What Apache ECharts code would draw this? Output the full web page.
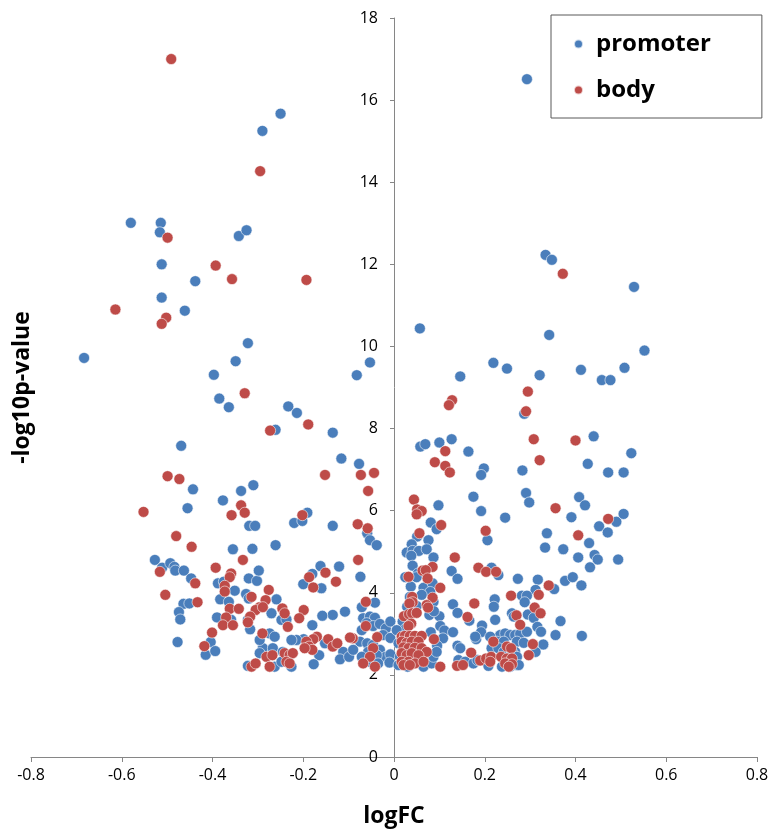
<!DOCTYPE html>
<html>
<head>
<meta charset="utf-8">
<script src="https://cdn.jsdelivr.net/npm/echarts@6/dist/echarts.min.js"></script>
<style>
  html, body { margin: 0; padding: 0; background: #fff; }
  #chart { width: 771px; height: 830px; }
</style>
</head>
<body>
<div id="chart"></div>
<script>
// [logFC, -log10 p-value]
var promoter = [
  [-0.25,15.67],[-0.29,15.25],[-0.58,13.01],[-0.514,13.01],[-0.516,12.78],[-0.342,12.69],[-0.325,12.83],[-0.512,12.0],[-0.438,11.59],[-0.512,11.19],
  [-0.683,9.72],[-0.461,10.87],[-0.322,10.08],[-0.349,9.64],[-0.397,9.31],[-0.082,9.30],[-0.053,9.61],[-0.385,8.73],[-0.364,8.52],[-0.233,8.54],
  [-0.214,8.38],[-0.261,7.97],[-0.135,7.90],[-0.469,7.58],[-0.116,7.27],[-0.077,7.14],[-0.443,6.52],[-0.377,6.25],[-0.337,6.48],[-0.310,6.62],
  [-0.455,6.06],[-0.191,5.95],[-0.220,5.70],[-0.202,5.75],[-0.319,5.63],[-0.306,5.63],[-0.135,5.63],[-0.059,5.45],[-0.053,5.28],[-0.038,5.16],
  [-0.355,5.06],[-0.312,5.07],[-0.527,4.80],[-0.511,4.61],[-0.493,4.72],[-0.484,4.63],[-0.482,4.54],[-0.463,4.54],[-0.447,4.35],[-0.464,3.73],
  [-0.451,3.74],[-0.474,3.53],[-0.471,3.35],[-0.477,2.80],[-0.404,2.80],[-0.415,2.49],[-0.394,2.58],[-0.388,4.23],[-0.375,4.27],[-0.351,4.05],
  [-0.383,3.84],[-0.364,3.78],[-0.390,3.40],[-0.359,3.34],[-0.320,4.35],[-0.302,4.29],[-0.298,4.54],[-0.326,3.97],[-0.320,3.86],[-0.322,3.34],
  [-0.317,3.11],[-0.322,2.22],[-0.289,2.65],
  [-0.261,5.16],[-0.121,4.64],[-0.162,4.65],[-0.180,4.46],[-0.200,4.21],[-0.160,4.11],[-0.074,4.39],[-0.071,3.65],[-0.042,3.76],[-0.068,3.38],
  [-0.053,3.42],[-0.042,3.39],[-0.060,3.26],[-0.071,3.09],[-0.046,3.19],[-0.031,3.24],[-0.018,3.13],[-0.024,2.97],[-0.075,2.81],[-0.059,2.77],
  [-0.046,2.73],[-0.031,2.61],[-0.018,2.44],[-0.057,2.56],[-0.038,2.48],[-0.071,2.44],[-0.053,2.32],[-0.035,2.28],[-0.108,3.54],[-0.135,3.46],
  [-0.158,3.44],[-0.180,3.21],[-0.199,2.87],[-0.165,2.48],[-0.177,2.26],[-0.215,2.85],[-0.152,2.77],[-0.112,2.56],[-0.119,2.38],[-0.099,2.44],
  [-0.090,2.61],[-0.259,3.84],[-0.270,3.50],[-0.248,3.34],[-0.237,3.35],[-0.226,2.85],[-0.274,3.01],[-0.263,2.93],[-0.289,2.65],[-0.267,2.65],
  [-0.263,2.20],[-0.245,2.56],[-0.248,2.32],[-0.226,2.20],[-0.296,2.85],[-0.296,2.53],
  [-0.008,3.3],[-0.008,2.9],[-0.008,2.5],[-0.01,2.3],
  [0.293,16.51],[0.334,12.23],[0.348,12.11],[0.529,11.45],[0.342,10.28],[0.552,9.90],[0.321,9.30],[0.412,9.43],[0.508,9.48],[0.458,9.18],
  [0.477,9.18],[0.287,8.36],[0.440,7.81],[0.523,7.40],[0.427,7.14],[0.283,6.98],[0.472,6.93],[0.506,6.93],[0.291,6.43],[0.298,6.20],
  [0.408,6.33],[0.421,6.13],[0.391,5.84],[0.490,5.73],[0.506,5.92],[0.452,5.62],
  [0.057,10.44],[0.219,9.60],[0.249,9.46],[0.146,9.27],[0.058,7.56],[0.069,7.62],[0.100,7.66],[0.127,7.74],[0.164,7.44],[0.198,7.03],
  [0.192,6.87],[0.098,6.13],[0.175,6.34],[0.192,5.99],[0.245,5.83],[0.081,5.71],
  [0.094,5.55],[0.206,5.28],[0.051,5.37],[0.076,5.28],[0.039,5.18],[0.028,4.98],[0.041,5.02],[0.055,5.02],[0.072,5.06],[0.038,4.90],
  [0.087,4.86],[0.041,4.66],[0.053,4.47],[0.025,4.38],[0.050,4.38],[0.127,4.53],[0.140,4.34],[0.215,4.61],[0.077,4.23],[0.037,4.15],
  [0.065,4.12],[0.085,4.23],[0.035,3.90],[0.080,4.02],[0.061,3.95],[0.087,3.78],[0.130,3.72],[0.222,3.84],[0.220,3.66],[0.029,3.66],
  [0.050,3.68],[0.078,3.46],[0.100,3.43],[0.088,3.55],[0.140,3.51],[0.166,3.32],[0.019,3.30],[0.026,3.13],[0.102,3.19],[0.111,3.08],
  [0.130,3.04],[0.081,3.04],[0.194,3.20],[0.192,3.04],[0.181,2.87],[0.215,2.65],[0.108,2.89],[0.095,2.71],[0.140,2.71],[0.146,2.65],
  [0.013,2.44],[0.010,2.24],[0.065,2.20],[0.083,2.28],[0.087,2.44],[0.094,2.56],[0.142,2.36],[0.157,2.32],[0.175,2.28],[0.184,2.36],
  [0.208,2.22],[0.006,3.09],[0.010,2.77],[0.03,2.2],[0.05,2.36],[0.02,2.6],
  [0.471,5.47],[0.337,5.45],[0.333,5.10],[0.373,5.06],[0.430,5.21],[0.406,4.86],[0.442,4.92],[0.449,4.81],[0.494,4.81],[0.432,4.62],
  [0.273,4.34],[0.317,4.32],[0.377,4.29],[0.394,4.38],[0.413,4.18],[0.353,4.09],[0.312,4.07],[0.282,3.93],[0.293,3.93],[0.288,3.77],
  [0.260,3.50],[0.264,3.42],[0.295,3.47],[0.308,3.39],[0.223,3.34],[0.316,3.17],[0.324,3.05],[0.367,3.31],[0.356,2.97],[0.414,2.95],
  [0.329,2.74],[0.312,2.56],[0.234,2.97],[0.245,3.01],[0.256,2.97],[0.267,2.97],[0.278,3.00],[0.293,3.05],[0.227,2.81],[0.242,2.81],
  [0.271,2.81],[0.286,2.78],[0.267,2.56],[0.271,2.24],[0.238,2.20],[0.256,2.20],
  [0.230,4.43],[0.179,2.93],[0.212,2.93],[0.230,2.65],[0.242,2.56],[0.260,2.56],[0.271,2.44],[0.275,2.24]
];

var body = [
  [-0.491,17.0],[-0.295,14.27],[-0.499,12.65],[-0.393,11.97],[-0.357,11.64],[-0.193,11.62],[-0.614,10.90],[-0.502,10.70],[-0.512,10.55],[-0.329,8.86],
  [-0.189,8.10],[-0.273,7.95],[-0.499,6.84],[-0.473,6.77],[-0.152,6.87],[-0.073,6.87],[-0.044,6.92],[-0.057,6.48],[-0.337,6.13],[-0.358,5.89],
  [-0.329,5.95],[-0.552,5.97],[-0.202,5.89],[-0.080,5.67],[-0.058,5.57],
  [-0.480,5.38],[-0.446,5.12],[-0.333,4.80],[-0.516,4.51],[-0.438,4.23],[-0.393,4.61],[-0.504,3.95],[-0.433,3.77],[-0.401,3.03],[-0.418,2.70],
  [-0.359,4.47],[-0.362,4.38],[-0.373,4.17],[-0.373,4.03],[-0.362,3.61],[-0.342,3.61],[-0.370,3.40],[-0.377,3.21],[-0.355,3.21],[-0.314,3.90],
  [-0.296,3.65],[-0.305,3.58],[-0.317,3.42],[-0.322,3.28],[-0.290,3.01],[-0.314,2.20],[-0.305,2.28],
  [-0.079,4.80],[-0.151,4.49],[-0.187,4.38],[-0.178,4.13],[-0.128,4.27],[-0.062,3.78],[-0.062,3.19],[-0.037,2.92],[-0.091,2.89],[-0.046,2.65],
  [-0.053,2.44],[-0.042,2.20],[-0.068,2.28],[-0.199,3.58],[-0.209,3.38],[-0.170,2.93],[-0.178,2.87],[-0.193,2.81],[-0.187,2.69],[-0.180,2.61],
  [-0.197,2.65],[-0.145,2.87],[-0.135,2.69],[-0.125,2.77],[-0.097,2.91],[-0.276,4.07],[-0.283,3.82],[-0.289,3.65],[-0.246,3.62],[-0.241,3.50],
  [-0.234,3.17],[-0.281,2.44],[-0.268,2.48],[-0.274,2.20],[-0.241,2.53],[-0.230,2.48],[-0.223,2.53],[-0.237,2.32],[-0.230,2.28],
  [0.372,11.77],[0.295,8.90],[0.291,8.42],[0.308,7.74],[0.400,7.71],[0.321,7.23],[0.356,6.06],[0.472,5.80],
  [0.128,8.69],[0.121,8.57],[0.113,7.45],[0.090,7.18],[0.113,7.09],[0.123,6.93],[0.044,6.27],[0.051,6.03],[0.061,5.99],[0.050,5.91],[0.104,5.65],
  [0.202,5.51],[0.056,5.45],[0.134,4.86],[0.085,4.63],[0.063,4.54],[0.070,4.55],[0.032,4.39],[0.186,4.61],[0.203,4.51],[0.225,4.51],
  [0.074,4.35],[0.102,4.12],[0.040,3.90],[0.041,3.77],[0.034,3.74],[0.085,3.88],[0.072,3.70],[0.075,3.64],[0.177,3.74],[0.022,3.43],
  [0.033,3.48],[0.040,3.50],[0.050,3.51],[0.162,3.41],[0.038,3.25],[0.032,3.19],[0.219,2.81],[0.088,2.87],
  [0.017,2.93],[0.024,2.95],[0.035,2.95],[0.046,2.95],[0.061,2.95],[0.017,2.81],[0.028,2.78],[0.039,2.81],[0.054,2.81],[0.021,2.67],
  [0.032,2.65],[0.046,2.66],[0.061,2.65],[0.072,2.56],[0.017,2.53],[0.028,2.48],[0.039,2.53],[0.054,2.48],[0.017,2.32],[0.032,2.32],
  [0.046,2.28],[0.065,2.32],[0.021,2.24],[0.035,2.24],[0.102,2.20],[0.139,2.22],[0.152,2.24],[0.170,2.54],[0.190,2.35],[0.203,2.40],
  [0.214,2.44],[0.212,2.32],
  [0.406,5.40],[0.341,4.18],[0.258,3.93],[0.319,3.95],[0.310,3.64],[0.323,3.50],[0.270,3.45],[0.278,3.22],[0.306,2.75],[0.297,2.48],
  [0.249,2.69],[0.258,2.65],[0.236,2.44],[0.249,2.40],[0.260,2.40],[0.245,2.28],[0.260,2.26],[0.253,2.20]
];

var seriesNames = ['promoter', 'body'];
var seriesColors = ['#4a7ebb', '#be4b48'];

var font = "'Open Sans', 'DejaVu Sans', sans-serif";
var chart = echarts.init(document.getElementById('chart'));

// y axis sits on logFC = 0, in the middle of the plot
var gridLeft = 31, gridRight = 14;
var yAxisShift = (771 - gridLeft - gridRight) / 2;

var option = {
  animation: false,
  backgroundColor: '#fff',
  textStyle: { fontFamily: font },
  grid: { left: gridLeft, right: gridRight, top: 18, bottom: 73, containLabel: false, outerBoundsMode: 'none' },
  legend: {
    data: seriesNames,
    orient: 'vertical',
    left: 551,
    top: 15,
    icon: 'circle',
    itemWidth: 9,
    itemHeight: 9,
    itemGap: 20,
    padding: [16, 51, 15, 22],
    borderColor: '#595959',
    borderWidth: 1,
    backgroundColor: '#fff',
    textStyle: { fontFamily: font, fontSize: 24, fontWeight: 'bold', color: '#000', lineHeight: 26, padding: [0, 0, 0, 8] }
  },
  xAxis: {
    type: 'value',
    min: -0.8,
    max: 0.8,
    interval: 0.2,
    name: 'logFC',
    nameLocation: 'middle',
    nameGap: 48,
    nameTextStyle: { fontFamily: font, fontSize: 23, fontWeight: 'bold', color: '#000' },
    splitLine: { show: false },
    axisLine: { onZero: false, lineStyle: { color: '#868686', width: 1 } },
    axisTick: { show: true, length: 5, lineStyle: { color: '#868686' } },
    axisLabel: {
      margin: 10,
      fontSize: 16,
      color: '#000',
      formatter: function (v) { return Math.abs(v) < 1e-9 ? '0' : v.toFixed(1); }
    }
  },
  yAxis: {
    type: 'value',
    min: 0,
    max: 18,
    interval: 2,
    offset: -yAxisShift,
    name: '-log10p-value',
    nameLocation: 'middle',
    nameRotate: 90,
    nameGap: 360,
    nameTextStyle: { fontFamily: font, fontSize: 23, fontWeight: 'bold', color: '#000' },
    splitLine: { show: false },
    axisLine: { onZero: false, lineStyle: { color: '#868686', width: 1 } },
    axisTick: { show: true, length: 4, lineStyle: { color: '#868686' } },
    axisLabel: { margin: 16, fontSize: 16, color: '#000' }
  },
  series: [
    {
      name: seriesNames[0],
      type: 'scatter',
      symbolSize: 11,
      data: promoter,
      itemStyle: { color: seriesColors[0], opacity: 1, borderColor: 'rgba(255,255,255,0.7)', borderWidth: 0.8 }
    },
    {
      name: seriesNames[1],
      type: 'scatter',
      symbolSize: 11,
      data: body,
      itemStyle: { color: seriesColors[1], opacity: 1, borderColor: 'rgba(255,255,255,0.7)', borderWidth: 0.8 }
    }
  ]
};

chart.setOption(option);
</script>
</body>
</html>
